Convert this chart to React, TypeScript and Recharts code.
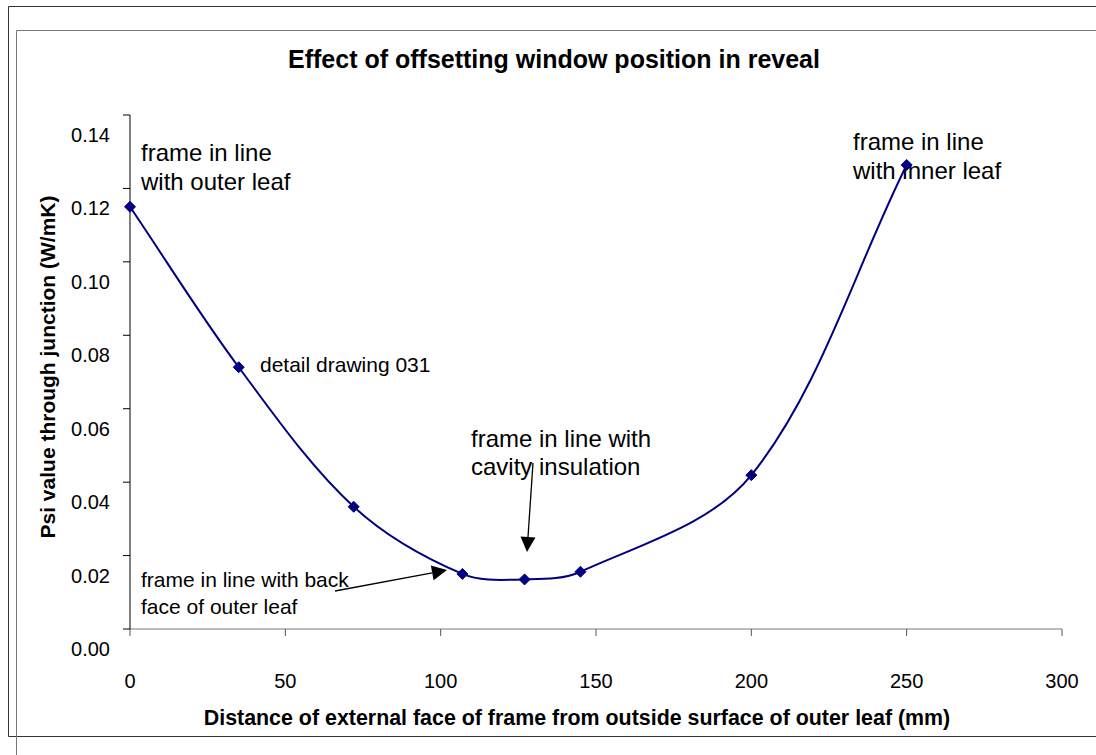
import React from "react";
import { Customized, Line, LineChart, XAxis, YAxis } from "recharts";

// offset of the external face of the frame (mm) and the matching psi value (W/mK)
const distances = [0, 35, 72, 107, 127, 145, 200, 250];
const psiValues = [0.115, 0.0713, 0.0333, 0.015, 0.0135, 0.0156, 0.0419, 0.1264];
const xTicks = [0, 50, 100, 150, 200, 250, 300];
const yTicks = [0, 0.02, 0.04, 0.06, 0.08, 0.1, 0.12, 0.14];

const data = distances.map((d, i) => ({ d, psi: psiValues[i] }));

const FONT = '"Liberation Sans", Arial, sans-serif';
const NAVY = "#000080";

// Excel style smoothed line: bezier segments, tangents weighted by chord length
function excelSmooth(context: any) {
  let pts: number[][] = [];
  const dist = (a: number[], b: number[]) => Math.hypot(b[0] - a[0], b[1] - a[1]);
  return {
    areaStart() {},
    areaEnd() {},
    lineStart() {
      pts = [];
    },
    point(x: number, y: number) {
      pts.push([+x, +y]);
    },
    lineEnd() {
      const n = pts.length;
      if (!n) return;
      context.moveTo(pts[0][0], pts[0][1]);
      for (let i = 0; i < n - 1; i++) {
        const p0 = pts[Math.max(i - 1, 0)];
        const p1 = pts[i];
        const p2 = pts[i + 1];
        const p3 = pts[Math.min(i + 2, n - 1)];
        const d01 = dist(p0, p1);
        const d12 = dist(p1, p2);
        const d23 = dist(p2, p3);
        const f1 = d01 + d12 > 0 ? d12 / (d01 + d12) / 3 : 0;
        const f2 = d12 + d23 > 0 ? d12 / (d12 + d23) / 3 : 0;
        context.bezierCurveTo(
          p1[0] + (p2[0] - p0[0]) * f1,
          p1[1] + (p2[1] - p0[1]) * f1,
          p2[0] - (p3[0] - p1[0]) * f2,
          p2[1] - (p3[1] - p1[1]) * f2,
          p2[0],
          p2[1]
        );
      }
    },
  };
}

const Diamond = (props: any) => {
  const { cx, cy, index } = props;
  if (cx == null || cy == null) return null;
  const r = 5.5;
  return (
    <path
      key={`dot-${index}`}
      d={`M${cx},${cy - r}L${cx + r},${cy}L${cx},${cy + r}L${cx - r},${cy}Z`}
      fill={NAVY}
      stroke={NAVY}
    />
  );
};

const XTick = (props: any) => {
  const { x, y, payload } = props;
  return (
    <text x={x} y={y} textAnchor="middle" fontFamily={FONT} fontSize={20} fill="#000">
      {payload.value}
    </text>
  );
};

const YTick = (props: any) => {
  const { x, y, payload } = props;
  return (
    <text x={x} y={y + 27} textAnchor="end" fontFamily={FONT} fontSize={20} fill="#000">
      {payload.value.toFixed(2)}
    </text>
  );
};

const Arrow = ({ x1, y1, x2, y2 }: { x1: number; y1: number; x2: number; y2: number }) => {
  const a = Math.atan2(y2 - y1, x2 - x1);
  const len = 15;
  const half = 7.5;
  const bx = x2 - len * Math.cos(a);
  const by = y2 - len * Math.sin(a);
  const px = -Math.sin(a) * half;
  const py = Math.cos(a) * half;
  return (
    <g>
      <line x1={x1} y1={y1} x2={bx} y2={by} stroke="#000" strokeWidth={1.3} />
      <path d={`M${x2},${y2}L${bx + px},${by + py}L${bx - px},${by - py}Z`} fill="#000" />
    </g>
  );
};

const Notes = () => (
  <g fontFamily={FONT} fill="#000">
    <path d="M1096,6.5H8.5V736.5H1096" fill="none" stroke="#333" />
    <path d="M1096,30.5H16.5V755" fill="none" stroke="#777" />
    <text x={554} y={68} textAnchor="middle" fontSize={25} fontWeight="bold">
      Effect of offsetting window position in reveal
    </text>
    <text
      x={55}
      y={367}
      textAnchor="middle"
      fontSize={21}
      fontWeight="bold"
      transform="rotate(-90, 55, 367)"
    >
      Psi value through junction (W/mK)
    </text>
    <text x={577} y={725} textAnchor="middle" fontSize={21.4} fontWeight="bold">
      Distance of external face of frame from outside surface of outer leaf (mm)
    </text>

    <text fontSize={24}>
      <tspan x={141} y={161}>frame in line</tspan>
      <tspan x={141} y={190}>with outer leaf</tspan>
    </text>
    <text fontSize={24}>
      <tspan x={853} y={150}>frame in line</tspan>
      <tspan x={853} y={179}>with inner leaf</tspan>
    </text>
    <text x={260} y={372} fontSize={21}>
      detail drawing 031
    </text>
    <text fontSize={24}>
      <tspan x={471} y={447}>frame in line with</tspan>
      <tspan x={471} y={475}>cavity insulation</tspan>
    </text>
    <text fontSize={21}>
      <tspan x={141} y={587}>frame in line with back</tspan>
      <tspan x={141} y={614}>face of outer leaf</tspan>
    </text>
    <Arrow x1={335} y1={591} x2={447} y2={570} />
    <Arrow x1={533} y1={463} x2={527} y2={552} />
  </g>
);

export default function App() {
  return (
    <div style={{ position: "absolute", left: 0, top: 0, width: 1096, height: 755, background: "#fff", overflow: "hidden" }}>
      <LineChart
        width={1096}
        height={755}
        data={data}
        margin={{ top: 115, right: 34, bottom: 0, left: 0 }}
        accessibilityLayer={false}
        style={{ outline: "none" }}
      >
        <XAxis
          dataKey="d"
          type="number"
          domain={[0, 300]}
          ticks={xTicks}
          height={126}
          tickSize={7}
          tickMargin={52}
          stroke="#777"
          tickLine={{ stroke: "#555" }}
          tick={<XTick />}
        />
        <YAxis
          type="number"
          domain={[0, 0.14]}
          ticks={yTicks}
          width={130}
          tickSize={7}
          tickMargin={13}
          stroke="#000"
          tick={<YTick />}
        />
        <Line
          dataKey="psi"
          type={excelSmooth as any}
          stroke={NAVY}
          strokeWidth={2}
          dot={<Diamond />}
          activeDot={false}
          isAnimationActive={false}
        />
        <Customized component={Notes} />
      </LineChart>
    </div>
  );
}
